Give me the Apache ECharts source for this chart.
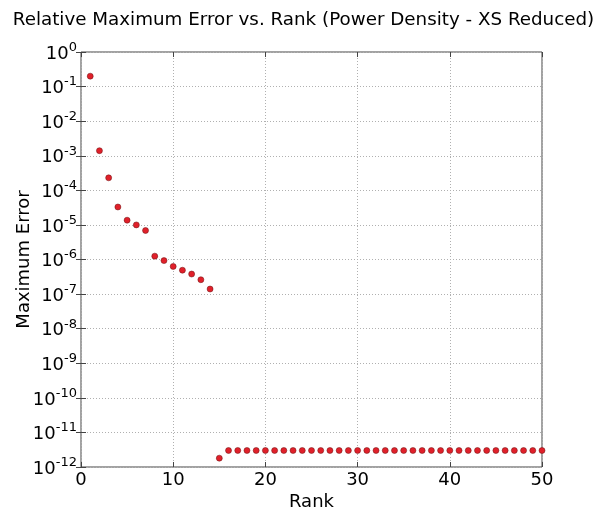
<!DOCTYPE html>
<html>
<head>
<meta charset="utf-8">
<script src="https://cdn.jsdelivr.net/npm/echarts@6/dist/echarts.min.js"></script>
<style>
html,body{margin:0;padding:0;background:#fff;}
#c{width:607px;height:513px;}
</style>
</head>
<body>
<div id="c"></div>
<script>
var titleText = 'Relative Maximum Error vs. Rank (Power Density - XS Reduced)';
var xLabel = 'Rank';
var yLabel = 'Maximum Error';
var ranks = [];
for (var i = 1; i <= 50; i++) ranks.push(i);
var errors = [
  2.0e-1, 1.4e-3, 2.3e-4, 3.3e-5, 1.37e-5, 1.0e-5, 6.9e-6, 1.25e-6, 9.3e-7, 6.3e-7,
  4.9e-7, 3.8e-7, 2.6e-7, 1.4e-7, 1.8e-12, 3.0e-12, 3.0e-12, 3.0e-12, 3.0e-12, 3.0e-12,
  3.0e-12, 3.0e-12, 3.0e-12, 3.0e-12, 3.0e-12, 3.0e-12, 3.0e-12, 3.0e-12, 3.0e-12, 3.0e-12,
  3.0e-12, 3.0e-12, 3.0e-12, 3.0e-12, 3.0e-12, 3.0e-12, 3.0e-12, 3.0e-12, 3.0e-12, 3.0e-12,
  3.0e-12, 3.0e-12, 3.0e-12, 3.0e-12, 3.0e-12, 3.0e-12, 3.0e-12, 3.0e-12, 3.0e-12, 3.0e-12
];
var xMin = 0, xMax = 50, xInterval = 10;
var yMin = 1e-12, yMax = 1;

var font = 'DejaVu Sans';
var data = ranks.map(function (r, i) { return [r, errors[i]]; });

var chart = echarts.init(document.getElementById('c'), null, {renderer: 'canvas'});
var gridLine = {show: true, lineStyle: {color: '#b0b0b0', type: [1, 2], width: 1}};
chart.setOption({
  animation: false,
  backgroundColor: '#fff',
  title: {
    text: titleText, left: 'center', top: 6,
    textStyle: {fontFamily: font, fontSize: 18.3, fontWeight: 'normal', color: '#000'}
  },
  grid: {left: 81, top: 52, right: 65, bottom: 46, show: true, borderColor: '#444', borderWidth: 1,
         containLabel: false, outerBoundsMode: 'none'},
  xAxis: [{
    type: 'value', min: xMin, max: xMax, interval: xInterval,
    name: xLabel, nameLocation: 'middle', nameGap: 26, nameMoveOverlap: false,
    nameTextStyle: {fontFamily: font, fontSize: 18, color: '#000'},
    axisLine: {show: false},
    axisTick: {show: true, inside: true, length: 5, lineStyle: {color: '#444'}},
    axisLabel: {fontFamily: font, fontSize: 18, color: '#000', margin: 4},
    splitLine: gridLine
  }, {
    type: 'value', min: xMin, max: xMax, interval: xInterval, position: 'top',
    axisLine: {show: false}, axisLabel: {show: false}, splitLine: {show: false},
    axisTick: {show: true, inside: true, length: 5, lineStyle: {color: '#444'}}
  }],
  yAxis: [{
    type: 'log', logBase: 10, min: yMin, max: yMax, interval: 1,
    name: yLabel, nameLocation: 'middle', nameGap: 48, nameMoveOverlap: false,
    nameTextStyle: {fontFamily: font, fontSize: 18, color: '#000'},
    axisLine: {show: false},
    axisTick: {show: true, inside: true, length: 5, lineStyle: {color: '#444'}},
    axisLabel: {
      margin: 4,
      formatter: function (v) {
        var e = Math.round(Math.log10(v));
        return '{b|10}{s|' + (e < 0 ? '-' + (-e) : e) + '}';
      },
      rich: {
        b: {fontFamily: font, fontSize: 18, color: '#000', verticalAlign: 'bottom', lineHeight: 22},
        s: {fontFamily: font, fontSize: 13, color: '#000', verticalAlign: 'top', lineHeight: 22, padding: [0, 0, 8, 0]}
      }
    },
    splitLine: gridLine
  }, {
    type: 'log', logBase: 10, min: yMin, max: yMax, interval: 1, position: 'right',
    axisLine: {show: false}, axisLabel: {show: false}, splitLine: {show: false},
    axisTick: {show: true, inside: true, length: 5, lineStyle: {color: '#444'}}
  }],
  series: [{
    type: 'scatter', xAxisIndex: 0, yAxisIndex: 0,
    data: data, symbol: 'circle', symbolSize: 6, clip: true,
    itemStyle: {color: '#e0202a', borderColor: '#6a1010', borderWidth: 0.5, opacity: 1}
  }]
});
</script>
</body>
</html>
